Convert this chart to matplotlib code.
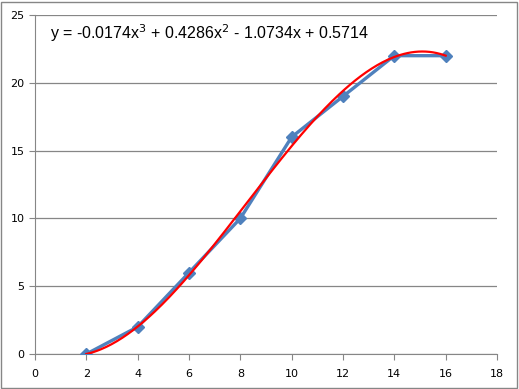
import numpy as np
import matplotlib.pyplot as plt
from matplotlib.patches import Rectangle

x_vals = [2, 4, 6, 8, 10, 12, 14, 16]
y_vals = [0, 2, 6, 10, 16, 19, 22, 22]
x_ticks = [0, 2, 4, 6, 8, 10, 12, 14, 16, 18]
y_ticks = [0, 5, 10, 15, 20, 25]

fig = plt.figure(figsize=(5.19, 3.89), dpi=100)
ax = fig.add_axes([35 / 519, 35 / 389, 462 / 519, 339 / 389])

# third order trendline from the points
coef = np.polyfit(x_vals, y_vals, 3)
xs = np.linspace(min(x_vals), max(x_vals), 200)
ax.plot(x_vals, y_vals, color="#4F81BD", linewidth=2.4, marker="D", markersize=6, zorder=3)
ax.plot(xs, np.polyval(coef, xs), color="#FF0000", linewidth=1.6, zorder=4)

ax.set_xlim(0, 18)
ax.set_ylim(0, 25)
ax.set_xticks(x_ticks)
ax.set_yticks(y_ticks)
ax.grid(axis="y", color="#868686", linewidth=0.9)
ax.set_axisbelow(True)
for side in ["top", "right"]:
    ax.spines[side].set_visible(False)
for side in ["left", "bottom"]:
    ax.spines[side].set_color("#868686")
ax.tick_params(colors="#868686", length=4, labelsize=8, labelcolor="black")
ax.tick_params(axis="x", pad=7)

ax.text(50 / 519, 356 / 389, "y = -0.0174x$^3$ + 0.4286x$^2$ - 1.0734x + 0.5714",
        transform=fig.transFigure, fontsize=11.5, family="Liberation Sans", va="center")

fig.patches.append(Rectangle((1 / 519, 1 / 389), 516 / 519, 386 / 389, transform=fig.transFigure,
                             fill=False, edgecolor="#868686", linewidth=1))

fig.savefig("out.png", dpi=100)
